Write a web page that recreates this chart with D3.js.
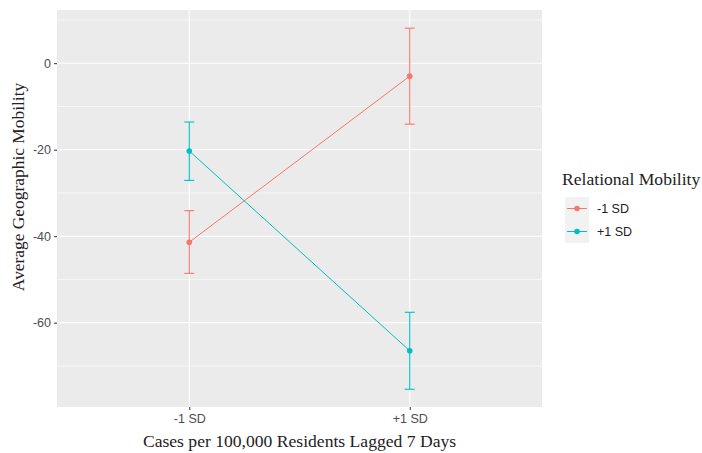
<!DOCTYPE html>
<html><head><meta charset="utf-8">
<script src="https://cdn.jsdelivr.net/npm/d3@7"></script>
<style>body{margin:0;background:#fff}</style>
</head><body>
<svg id="c" width="702" height="453"></svg>
<script>
const categories = ["-1 SD", "+1 SD"];
const seriesNames = ["-1 SD", "+1 SD"];
const seriesColors = ["#F8766D", "#00BFC4"];
const meanLow = [-41.4, -3.0];     // Relational Mobility -1 SD
const lowerLow = [-48.6, -14.1];
const upperLow = [-34.1, 8.1];
const meanHigh = [-20.3, -66.5];   // Relational Mobility +1 SD
const lowerHigh = [-27.1, -75.4];
const upperHigh = [-13.6, -57.6];
const yTicks = [0, -20, -40, -60];
const yMinor = [10, -10, -30, -50, -70];

const series = [
  {name: seriesNames[0], color: seriesColors[0], mean: meanLow, lo: lowerLow, hi: upperLow},
  {name: seriesNames[1], color: seriesColors[1], mean: meanHigh, lo: lowerHigh, hi: upperHigh}
];

const svg = d3.select("#c");
const P = {l: 57, r: 542, t: 10, b: 407};

const x = d3.scalePoint().domain(categories).range([P.l, P.r]).padding(0.6);
const y = d3.scaleLinear().domain([-79.5, 12.3]).range([P.b, P.t]);

svg.append("rect").attr("x", P.l).attr("y", P.t).attr("width", P.r - P.l).attr("height", P.b - P.t).attr("fill", "#EBEBEB");

const g = svg.append("g");
g.selectAll(".minor").data(yMinor).join("line")
  .attr("x1", P.l).attr("x2", P.r).attr("y1", d => y(d)).attr("y2", d => y(d))
  .attr("stroke", "#fff").attr("stroke-width", 0.6);
g.selectAll(".major").data(yTicks).join("line")
  .attr("x1", P.l).attr("x2", P.r).attr("y1", d => y(d)).attr("y2", d => y(d))
  .attr("stroke", "#fff").attr("stroke-width", 1.1);
g.selectAll(".vmajor").data(categories).join("line")
  .attr("y1", P.t).attr("y2", P.b).attr("x1", d => x(d)).attr("x2", d => x(d))
  .attr("stroke", "#fff").attr("stroke-width", 1.1);

// axes
const yAxis = svg.append("g").attr("transform", `translate(${P.l},0)`)
  .call(d3.axisLeft(y).tickValues(yTicks).tickSize(3).tickPadding(3).tickFormat(d => String(d)));
const xAxis = svg.append("g").attr("transform", `translate(0,${P.b})`)
  .call(d3.axisBottom(x).tickSize(3).tickPadding(4));
[yAxis, xAxis].forEach(a => {
  a.select(".domain").remove();
  a.selectAll(".tick line").attr("stroke", "#333").attr("stroke-width", 1);
  a.selectAll(".tick text").attr("fill", "#4D4D4D").attr("font-family", "Liberation Sans, Arial, sans-serif").attr("font-size", 12.5);
});

// series
const line = d3.line().x((d, i) => x(categories[i])).y(d => y(d));
series.forEach(s => {
  const sg = svg.append("g");
  sg.append("path").attr("d", line(s.mean)).attr("fill", "none").attr("stroke", s.color).attr("stroke-width", 1);
  categories.forEach((c, i) => {
    const cx = x(c);
    sg.append("line").attr("x1", cx).attr("x2", cx).attr("y1", y(s.lo[i])).attr("y2", y(s.hi[i])).attr("stroke", s.color).attr("stroke-width", 1.1);
    [s.lo[i], s.hi[i]].forEach(v => {
      sg.append("line").attr("x1", cx - 5).attr("x2", cx + 5).attr("y1", y(v)).attr("y2", y(v)).attr("stroke", s.color).attr("stroke-width", 1.1);
    });
    sg.append("circle").attr("cx", cx).attr("cy", y(s.mean[i])).attr("r", 2.8).attr("fill", s.color);
  });
});

// axis titles
const serif = "Liberation Serif, Times New Roman, serif";
svg.append("text").attr("x", (P.l + P.r) / 2).attr("y", 447).attr("text-anchor", "middle")
  .attr("font-family", serif).attr("font-size", 17.6).attr("fill", "#222")
  .text("Cases per 100,000 Residents Lagged 7 Days");
svg.append("text").attr("transform", `translate(23.5,187) rotate(-90)`).attr("text-anchor", "middle")
  .attr("font-family", serif).attr("font-size", 17.4).attr("fill", "#222")
  .text("Average Geographic Mobility");

// legend
const lg = svg.append("g");
lg.append("text").attr("x", 562).attr("y", 185).attr("font-family", serif)
  .attr("font-size", 17.6).attr("fill", "#222").text("Relational Mobility");
series.forEach((s, i) => {
  const ky = 197 + i * 23;
  lg.append("rect").attr("x", 565).attr("y", ky).attr("width", 24).attr("height", 23).attr("fill", "#F2F2F2");
  lg.append("line").attr("x1", 567).attr("x2", 587).attr("y1", ky + 11.5).attr("y2", ky + 11.5).attr("stroke", s.color).attr("stroke-width", 1);
  lg.append("circle").attr("cx", 577).attr("cy", ky + 11.5).attr("r", 2.8).attr("fill", s.color);
  lg.append("text").attr("x", 597).attr("y", ky + 11.5).attr("dy", "0.35em").attr("font-family", "Liberation Sans, Arial, sans-serif")
    .attr("font-size", 12.5).attr("fill", "#222").text(s.name);
});
</script>
</body></html>
